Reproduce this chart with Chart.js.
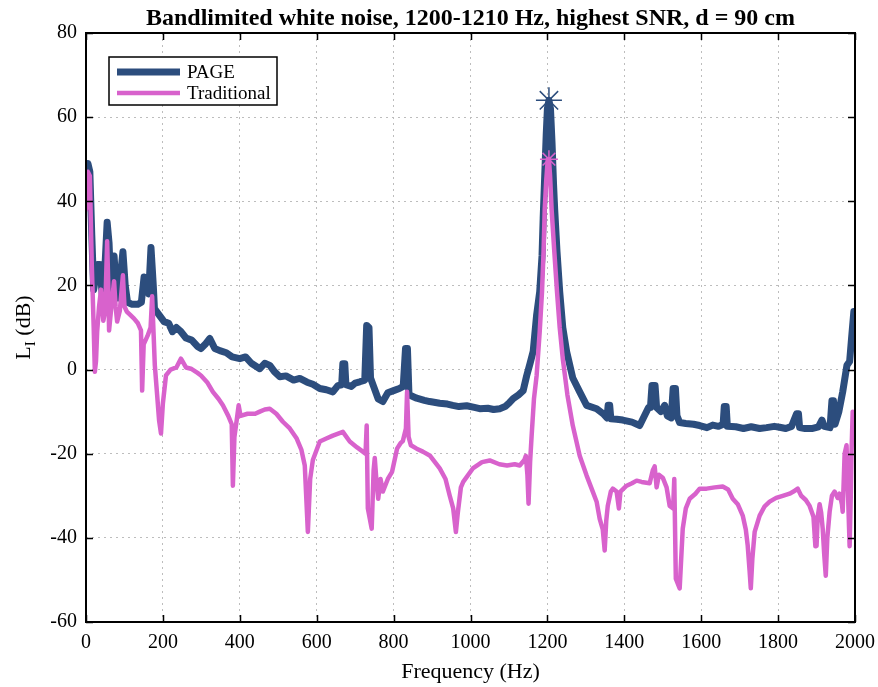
<!DOCTYPE html>
<html lang="en">
<head>
    <meta charset="UTF-8">
    <title>Bandlimited white noise</title>
    <script src="https://cdn.jsdelivr.net/npm/chart.js"></script>
    <style>
        html, body { margin: 0; padding: 0; background: #fff; }
        #wrap { width: 878px; height: 687px; }
    </style>
</head>
<body>
    <div id="wrap"><canvas id="graphique" width="878" height="687"></canvas></div>

    <script>
        // Données
        const titleText = 'Bandlimited white noise, 1200-1210 Hz, highest SNR, d = 90 cm';
        const xTitle = 'Frequency (Hz)';
        const legendLabels = ['PAGE', 'Traditional'];

        const pageFreq = [0, 5, 10, 15, 20, 25, 30, 36, 42, 48, 55, 60, 65, 73, 78, 84, 96, 102, 108, 120, 135, 144, 151, 157, 163, 169, 175, 178, 190, 203, 215, 225, 235, 247, 260, 275, 290, 299, 310, 322, 335, 348, 365, 380, 400, 415, 430, 452, 465, 478, 490, 504, 520, 540, 556, 575, 590, 608, 625, 642, 655, 665, 668, 673, 676, 690, 700, 712, 725, 730, 736, 740, 748, 760, 772, 785, 800, 815, 825, 831, 836, 840, 860, 880, 894, 920, 940, 954, 970, 990, 1010, 1024, 1045, 1060, 1076, 1090, 1100, 1111, 1125, 1137, 1146, 1155, 1163, 1172, 1180, 1186, 1189, 1193, 1197, 1200, 1204, 1208, 1212, 1216, 1219, 1225, 1232, 1240, 1250, 1266, 1284, 1302, 1328, 1345, 1355, 1358, 1362, 1365, 1380, 1396, 1420, 1440, 1455, 1463, 1468, 1472, 1480, 1484, 1495, 1505, 1512, 1522, 1527, 1533, 1537, 1544, 1560, 1580, 1596, 1615, 1630, 1645, 1657, 1660, 1665, 1668, 1690, 1710, 1730, 1752, 1770, 1790, 1804, 1820, 1835, 1848, 1853, 1856, 1870, 1890, 1905, 1914, 1920, 1935, 1940, 1944, 1948, 1958, 1968, 1979, 1986, 1991, 1997, 2000];
        const pageLevel = [41, 49, 47, 32, 19, 22, 25, 25, 18, 22, 35, 30, 18, 27, 20, 17, 28, 20, 16, 15.5, 15.5, 16, 22, 20, 18, 29, 20, 14.5, 13, 11.4, 11, 9, 10, 9, 7.5, 7, 5.5, 5, 6, 7.4, 5, 4.5, 4, 3, 2.6, 3, 1.5, 0.2, 1.5, 1, -0.5, -1.7, -1.5, -2.5, -2.1, -3, -3.5, -4.5, -4.8, -5.3, -3.8, -3.6, 1.4, 1.4, -3.6, -4, -3.2, -2.9, -2.5, 10.5, 10, -2, -4, -7, -7.6, -5.5, -5, -4.5, -4, 5, 5, -6, -6.8, -7.3, -7.6, -8, -8.2, -8.5, -8.8, -8.6, -9, -9.3, -9.2, -9.5, -9.3, -8.8, -8, -6.9, -6, -5, -1.5, 1.5, 4.3, 13, 18.5, 27, 36, 46, 56, 62, 64, 62, 54, 44, 38, 28, 18.5, 10, 4.3, -2, -5.3, -8.5, -9.3, -10.5, -11.5, -8.5, -8.5, -11.7, -11.8, -12, -12.5, -13.3, -10.5, -9, -9, -3.8, -3.8, -9, -10, -8.5, -11, -11.5, -4.5, -4.5, -11, -12.6, -12.8, -13, -13.3, -13.8, -13.2, -13.5, -13, -8.8, -8.8, -13.5, -13.6, -14, -13.6, -14, -13.8, -13.5, -13.7, -14, -13.5, -10.5, -10.5, -13.8, -14, -14, -13.6, -12, -13.5, -13.8, -7.4, -7.4, -13, -10, -5.3, 1, 1.9, 7.4, 13.8, 13];

        const tradFreq = [0, 5, 10, 15, 20, 23, 26, 29, 34, 39, 45, 50, 55, 58, 60, 66, 73, 77, 81, 88, 96, 100, 106, 115, 125, 135, 143, 146, 150, 160, 168, 172, 176, 179, 185, 190, 195, 200, 208, 220, 235, 247, 260, 273, 290, 299, 315, 330, 345, 356, 370, 379, 382, 386, 392, 397, 402, 420, 440, 452, 465, 478, 495, 512, 530, 548, 560, 569, 577, 583, 590, 608, 625, 642, 668, 686, 705, 720, 727, 730, 733, 743, 748, 751, 755, 760, 766, 772, 785, 796, 809, 818, 824, 832, 835, 839, 845, 860, 876, 895, 920, 935, 946, 955, 962, 967, 975, 981, 1006, 1030, 1050, 1075, 1095, 1115, 1128, 1140, 1144, 1148, 1151, 1155, 1159, 1165, 1172, 1180, 1186, 1190, 1193, 1197, 1201, 1204, 1207, 1211, 1218, 1225, 1232, 1240, 1252, 1266, 1284, 1302, 1318, 1328, 1336, 1344, 1349, 1353, 1357, 1365, 1370, 1380, 1386, 1390, 1406, 1420, 1432, 1445, 1466, 1474, 1479, 1484, 1490, 1500, 1510, 1518, 1527, 1530, 1534, 1544, 1552, 1560, 1570, 1585, 1596, 1614, 1635, 1656, 1670, 1682, 1695, 1708, 1716, 1721, 1726, 1729, 1733, 1739, 1752, 1765, 1778, 1795, 1812, 1830, 1840, 1851, 1860, 1872, 1882, 1892, 1897, 1900, 1903, 1908, 1912, 1916, 1920, 1924, 1928, 1934, 1940, 1947, 1955, 1960, 1966, 1968, 1973, 1978, 1982, 1986, 1989, 1991, 1994, 1997, 2000];
        const tradLevel = [38, 47, 46, 25, 10, -0.5, 2, 9, 15, 19, 11.6, 14, 30.5, 20, 9.3, 15, 21, 15, 11.4, 14, 22.4, 15, 13.8, 13, 12.1, 11, 9.3, -5, 6, 8, 10, 17.4, 8, 1, -6, -12, -15.2, -8, -1.4, 0, 0.5, 2.6, 0.5, 0.2, -0.8, -1.4, -3, -5.3, -7, -8.5, -11, -13, -27.6, -16, -12, -8.5, -11, -10.5, -10.5, -10, -9.5, -9.3, -10.5, -12.4, -14, -16.4, -19, -22.8, -38.6, -26, -21.5, -17.1, -16.4, -15.7, -14.8, -17.1, -18.5, -19.5, -20, -13.3, -33, -37.8, -24, -21, -26, -30.7, -26, -29, -26, -24.3, -18.8, -17.5, -17, -14, -5.3, -16, -18, -18.8, -19.5, -20.5, -23.5, -26, -30, -33, -38.6, -34, -28, -26.7, -23.5, -22, -21.6, -22.5, -22.8, -22.5, -22.8, -21.5, -20.5, -25, -31.9, -22, -15.7, -7, -1.4, 9, 18.5, 28, 38, 45, 50, 50, 46, 38, 28, 18.5, 10, 2.6, -6, -13.3, -20.5, -25.2, -29, -31.4, -35.5, -38, -43, -36, -32.4, -29, -28.3, -29, -33, -29, -27.6, -27, -26.4, -26.7, -27, -24, -23, -28, -25, -25.7, -28, -32.4, -33, -26, -49.7, -52, -37.8, -33, -30.7, -29.5, -28.3, -28.3, -28, -27.8, -28.5, -30.7, -32, -34.7, -38, -41.9, -48, -52, -45, -38.6, -34.7, -32.5, -31.4, -30.5, -30, -29.5, -29, -28.3, -30, -31, -32.4, -35, -42, -41.9, -35, -32, -34, -37.8, -44, -49, -40, -33.8, -30, -29, -30.5, -29.5, -32, -33.8, -20, -18, -30, -42, -30, -19.5, -10, -14, -10];

        // Pics marqués par une étoile
        const peakFreq = [1204];
        const pagePeak = [64];
        const tradPeak = [50];

        const xTicks = [0, 200, 400, 600, 800, 1000, 1200, 1400, 1600, 1800, 2000];
        const yTicks = [-60, -40, -20, 0, 20, 40, 60, 80];

        const pageColor = '#2c4d7d';
        const tradColor = '#d862cc';
        const serif = '"Liberation Serif", "Times New Roman", serif';

        const toPoints = (xs, ys) => xs.map((v, i) => ({ x: v, y: ys[i] }));

        // Titre, étiquettes, cadre, graduations intérieures et légende
        const decor = {
            id: 'decor',
            afterDatasetsDraw(chart) {
                const { ctx, chartArea: a, scales: { x, y } } = chart;
                ctx.save();

                // graduations vers l'intérieur
                ctx.strokeStyle = '#000';
                ctx.lineWidth = 1.5;
                ctx.beginPath();
                xTicks.forEach(v => {
                    const px = Math.round(x.getPixelForValue(v)) + 0.5;
                    ctx.moveTo(px, a.bottom); ctx.lineTo(px, a.bottom - 7);
                    ctx.moveTo(px, a.top); ctx.lineTo(px, a.top + 7);
                });
                yTicks.forEach(v => {
                    const py = Math.round(y.getPixelForValue(v)) + 0.5;
                    ctx.moveTo(a.left, py); ctx.lineTo(a.left + 7, py);
                    ctx.moveTo(a.right, py); ctx.lineTo(a.right - 7, py);
                });
                ctx.stroke();

                // cadre
                ctx.lineWidth = 2;
                ctx.strokeRect(a.left, a.top, a.right - a.left, a.bottom - a.top);

                // légende
                const lx = a.left + 23, ly = a.top + 24, lw = 168, lh = 48;
                ctx.fillStyle = '#fff';
                ctx.fillRect(lx, ly, lw, lh);
                ctx.lineWidth = 1.5;
                ctx.strokeStyle = '#000';
                ctx.strokeRect(lx, ly, lw, lh);
                const rows = [
                    { label: legendLabels[0], color: pageColor, width: 7, y: ly + 15 },
                    { label: legendLabels[1], color: tradColor, width: 4.5, y: ly + 36 }
                ];
                ctx.font = '19px ' + serif;
                ctx.textBaseline = 'middle';
                ctx.textAlign = 'left';
                rows.forEach(r => {
                    ctx.strokeStyle = r.color;
                    ctx.lineWidth = r.width;
                    ctx.beginPath();
                    ctx.moveTo(lx + 8, r.y); ctx.lineTo(lx + 71, r.y);
                    ctx.stroke();
                    ctx.fillStyle = '#000';
                    ctx.fillText(r.label, lx + 78, r.y + 1);
                });

                ctx.restore();
            },
            afterDraw(chart) {
                const { ctx, chartArea: a } = chart;
                const cx = (a.left + a.right) / 2;
                ctx.save();
                ctx.fillStyle = '#000';

                ctx.font = 'bold 24px ' + serif;
                ctx.textAlign = 'center';
                ctx.textBaseline = 'alphabetic';
                ctx.fillText(titleText, cx, 25);

                ctx.font = '22px ' + serif;
                ctx.fillText(xTitle, cx, 678);

                // L indice I (dB), vertical
                ctx.translate(30, (a.top + a.bottom) / 2);
                ctx.rotate(-Math.PI / 2);
                ctx.textAlign = 'left';
                const big = '22px ' + serif, small = '15px ' + serif;
                ctx.font = big;
                const wL = ctx.measureText('L').width;
                ctx.font = small;
                const wI = ctx.measureText('I').width;
                ctx.font = big;
                const wRest = ctx.measureText(' (dB)').width;
                let sx = -(wL + wI + wRest) / 2;
                ctx.fillText('L', sx, 0);
                ctx.font = small;
                ctx.fillText('I', sx + wL, 5);
                ctx.font = big;
                ctx.fillText(' (dB)', sx + wL + wI, 0);
                ctx.restore();
            }
        };

        const lineChartCtx = document.getElementById('graphique').getContext('2d');
        const myChart = new Chart(lineChartCtx, {
            type: 'line',
            data: {
                datasets: [
                    {
                        label: 'Traditional peak',
                        data: toPoints(peakFreq, tradPeak),
                        showLine: false,
                        pointStyle: 'star',
                        pointRadius: 9,
                        borderColor: tradColor,
                        borderWidth: 1.5,
                        order: 0
                    },
                    {
                        label: 'PAGE peak',
                        data: toPoints(peakFreq, pagePeak),
                        showLine: false,
                        pointStyle: 'star',
                        pointRadius: 13,
                        borderColor: pageColor,
                        borderWidth: 1.5,
                        order: 1
                    },
                    {
                        label: legendLabels[1],
                        data: toPoints(tradFreq, tradLevel),
                        borderColor: tradColor,
                        borderWidth: 4.5,
                        borderJoinStyle: 'round',
                        borderCapStyle: 'round',
                        pointRadius: 0,
                        tension: 0,
                        order: 2
                    },
                    {
                        label: legendLabels[0],
                        data: toPoints(pageFreq, pageLevel),
                        borderColor: pageColor,
                        borderWidth: 7,
                        borderJoinStyle: 'round',
                        borderCapStyle: 'round',
                        pointRadius: 0,
                        tension: 0,
                        order: 3
                    }
                ]
            },
            options: {
                responsive: false,
                animation: false,
                layout: { padding: { top: 33, right: 23, left: 0, bottom: 0 } },
                plugins: {
                    legend: { display: false },
                    title: { display: false },
                    tooltip: { enabled: false }
                },
                scales: {
                    x: {
                        type: 'linear',
                        min: 0,
                        max: 2000,
                        afterBuildTicks: s => { s.ticks = xTicks.map(v => ({ value: v })); },
                        afterFit: s => { s.height = 65; s.paddingLeft = 0; s.paddingRight = 0; },
                        grid: { color: '#bdbdbd', lineWidth: 1, drawTicks: false },
                        border: { display: false, dash: [2, 4] },
                        ticks: { color: '#000', font: { family: serif, size: 20 }, padding: 9, maxRotation: 0, callback: v => String(v) }
                    },
                    y: {
                        min: -60,
                        max: 80,
                        afterBuildTicks: s => { s.ticks = yTicks.map(v => ({ value: v })); },
                        afterFit: s => { s.width = 86; s.paddingTop = 0; s.paddingBottom = 0; },
                        grid: { color: '#bdbdbd', lineWidth: 1, drawTicks: false },
                        border: { display: false, dash: [2, 4] },
                        ticks: { color: '#000', font: { family: serif, size: 20 }, padding: 9, callback: v => String(v) }
                    }
                }
            },
            plugins: [decor]
        });
    </script>
</body>
</html>
